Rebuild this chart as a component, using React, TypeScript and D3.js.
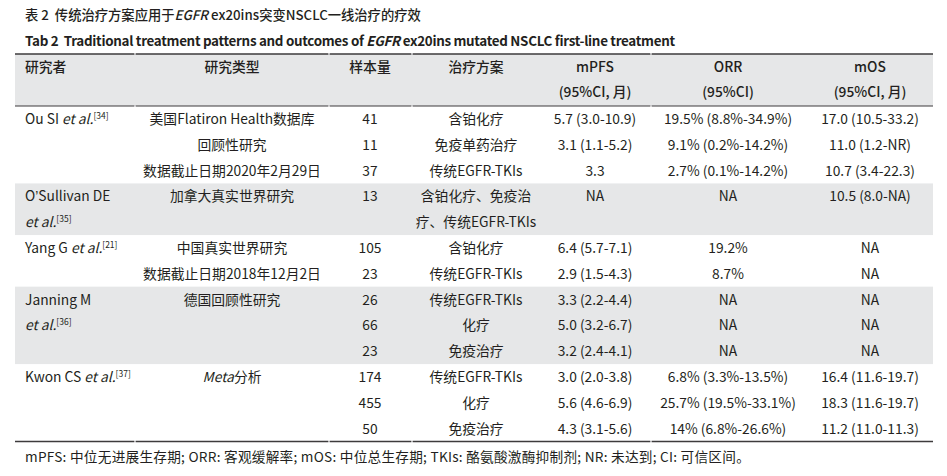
import React from "react";
import * as d3 from "d3";

// ---------- data ----------
const titleCn = "传统治疗方案应用于";
const headerTop = ["研究者", "研究类型", "样本量", "治疗方案", "mPFS", "ORR", "mOS"];
const headerSub = ["", "", "", "", "(95%CI, 月)", "(95%CI)", "(95%CI, 月)"];

const authorNames = ["Ou SI", "O’Sullivan DE", "Yang G", "Janning M", "Kwon CS"];
const authorRefs = ["34", "35", "21", "36", "37"];
const groupLineCounts = [3, 2, 2, 3, 3];
const authorWrapped = [false, true, false, true, false];

// per row (one entry per table line)
const studyTypes = [
  "美国Flatiron Health数据库", "回顾性研究", "数据截止日期2020年2月29日",
  "加拿大真实世界研究", "",
  "中国真实世界研究", "数据截止日期2018年12月2日",
  "德国回顾性研究", "", "",
  "Meta分析", "", "",
];
const sampleSizes = ["41", "11", "37", "13", "", "105", "23", "26", "66", "23", "174", "455", "50"];
const treatments = [
  "含铂化疗", "免疫单药治疗", "传统EGFR-TKIs",
  "含铂化疗、免疫治", "疗、传统EGFR-TKIs",
  "含铂化疗", "传统EGFR-TKIs",
  "传统EGFR-TKIs", "化疗", "免疫治疗",
  "传统EGFR-TKIs", "化疗", "免疫治疗",
];
const mPFS = [
  "5.7 (3.0-10.9)", "3.1 (1.1-5.2)", "3.3",
  "NA", "",
  "6.4 (5.7-7.1)", "2.9 (1.5-4.3)",
  "3.3 (2.2-4.4)", "5.0 (3.2-6.7)", "3.2 (2.4-4.1)",
  "3.0 (2.0-3.8)", "5.6 (4.6-6.9)", "4.3 (3.1-5.6)",
];
const ORR = [
  "19.5% (8.8%-34.9%)", "9.1% (0.2%-14.2%)", "2.7% (0.1%-14.2%)",
  "NA", "",
  "19.2%", "8.7%",
  "NA", "NA", "NA",
  "6.8% (3.3%-13.5%)", "25.7% (19.5%-33.1%)", "14% (6.8%-26.6%)",
];
const mOS = [
  "17.0 (10.5-33.2)", "11.0 (1.2-NR)", "10.7 (3.4-22.3)",
  "10.5 (8.0-NA)", "",
  "NA", "NA",
  "NA", "NA", "NA",
  "16.4 (11.6-19.7)", "18.3 (11.6-19.7)", "11.2 (11.0-11.3)",
];
const footnote = "mPFS: 中位无进展生存期; ORR: 客观缓解率; mOS: 中位总生存期; TKIs: 酪氨酸激酶抑制剂; NR: 未达到; CI: 可信区间。";

// ---------- layout ----------
const W = 947, H = 476;
const FONT = "'Noto Sans CJK SC', 'Noto Sans', sans-serif";
const LATIN = "'Liberation Sans', sans-serif";
const INK = "#231f20";
const GRAY = "#e6e7e8";
const LINE = "#3d3b3c";
const X0 = 15, X1 = 933;
const colX = [25, 232, 370, 476, 595, 728, 870]; // first is left-aligned, others centered
const gaps = [135, 329, 412, 651];
const HEAD_TOP = 54, HEAD_BOT = 106;
const nLines = groupLineCounts.reduce((a, b) => a + b, 0);
const yLine = d3.scaleLinear().domain([0, nLines]).range([HEAD_BOT, 441.5]);
const FS = 13.8;

function segLine(y: number, w: number, key: string) {
  const xs = [X0, ...gaps, X1];
  const out: any[] = [];
  for (let i = 0; i < xs.length - 1; i++) {
    const a = i === 0 ? xs[i] : xs[i] + 0.6;
    const b = i === xs.length - 2 ? xs[i + 1] : xs[i + 1] - 0.6;
    out.push(<line key={key + i} x1={a} x2={b} y1={y} y2={y} stroke={LINE} strokeWidth={w} />);
  }
  return out;
}

function nameNode(n: string) {
  const k = n.indexOf("’");
  if (k < 0) return n;
  return (
    <>
      {n.slice(0, k)}
      <tspan fontFamily={LATIN}>’</tspan>
      {n.slice(k + 1)}
    </>
  );
}

export default function App() {
  const groupStarts: number[] = [];
  groupLineCounts.reduce((acc, c) => { groupStarts.push(acc); return acc + c; }, 0);
  const cy = (i: number) => (yLine(i) + yLine(i + 1)) / 2;
  const base = (c: number) => c + 5;

  const cells: any[] = [];
  for (let i = 0; i < nLines; i++) {
    const cols = [studyTypes[i], sampleSizes[i], treatments[i], mPFS[i], ORR[i], mOS[i]];
    cols.forEach((t, j) => {
      if (!t) return;
      const x = colX[j + 1];
      if (t.startsWith("Meta")) {
        cells.push(
          <text key={`c${i}-${j}`} x={x} y={base(cy(i))} textAnchor="middle">
            <tspan fontStyle="italic">Meta</tspan>{t.slice(4)}
          </text>
        );
      } else {
        cells.push(<text key={`c${i}-${j}`} x={x} y={base(cy(i))} textAnchor="middle">{t}</text>);
      }
    });
  }

  return (
    <div style={{ position: "absolute", left: 0, top: 0 }}>
      <svg width={W} height={H} style={{ display: "block", background: "#fff" }} fontFamily={FONT} fontSize={FS} fill={INK}>
        {/* titles */}
        <text x={25} y={20} fontSize={13.3} fontWeight={500}>
          表 2{"\u00a0\u00a0"}{titleCn}<tspan fontStyle="italic">EGFR</tspan> ex20ins突变NSCLC一线治疗的疗效
        </text>
        <text x={25} y={46} fontSize={13.4} fontWeight={600} letterSpacing={-0.3}>
          Tab 2{"\u00a0\u00a0"}Traditional treatment patterns and outcomes of <tspan fontStyle="italic">EGFR</tspan> ex20ins mutated NSCLC first-line treatment
        </text>

        {/* header background */}
        <rect x={X0} y={HEAD_TOP} width={X1 - X0} height={HEAD_BOT - HEAD_TOP} fill={GRAY} />
        {/* group backgrounds */}
        {groupStarts.map((s, g) =>
          g % 2 === 1 ? (
            <rect key={"bg" + g} x={X0} y={yLine(s)} width={X1 - X0} height={yLine(s + groupLineCounts[g]) - yLine(s)} fill={GRAY} />
          ) : null
        )}

        {/* header text */}
        {headerTop.map((t, j) => (
          <text key={"h" + j} x={colX[j]} y={72} textAnchor={j === 0 ? "start" : "middle"} fontWeight={500}>{t}</text>
        ))}
        {headerSub.map((t, j) => t ? (
          <text key={"hs" + j} x={colX[j]} y={97} textAnchor="middle" fontWeight={500}>{t}</text>
        ) : null)}

        {/* authors */}
        {authorNames.map((n, g) => {
          const s = groupStarts[g];
          if (authorWrapped[g]) {
            return (
              <g key={"a" + g}>
                <text x={colX[0]} y={base(cy(s))}>{nameNode(n)}</text>
                <text x={colX[0]} y={base(cy(s + 1))}>
                  <tspan fontStyle="italic">et al.</tspan>
                  <tspan fontSize={8.5} dy={-5}>[{authorRefs[g]}]</tspan>
                </text>
              </g>
            );
          }
          return (
            <text key={"a" + g} x={colX[0]} y={base(cy(s))}>
              {nameNode(n)} <tspan fontStyle="italic">et al.</tspan>
              <tspan fontSize={8.5} dy={-5}>[{authorRefs[g]}]</tspan>
            </text>
          );
        })}

        {cells}

        {/* rules */}
        {segLine(HEAD_TOP, 1.6, "t")}
        {segLine(HEAD_BOT, 1.2, "m")}
        {segLine(yLine(nLines), 1.6, "b")}

        <text x={25} y={462} fontSize={13.65} letterSpacing={0.25}>{footnote}</text>
      </svg>
    </div>
  );
}
